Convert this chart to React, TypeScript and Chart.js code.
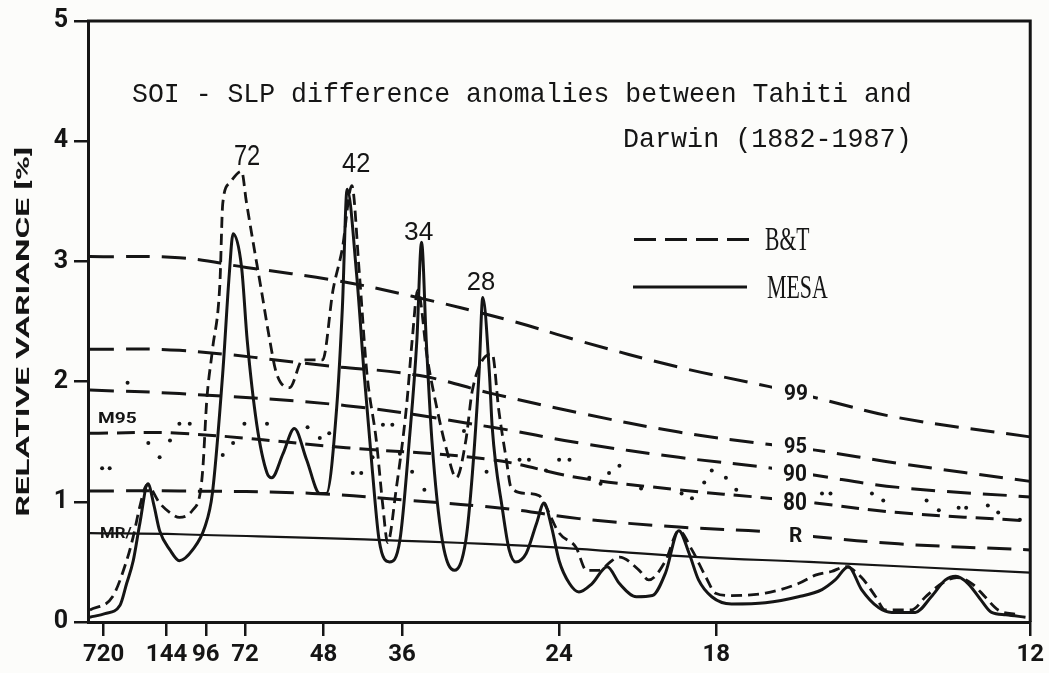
import React, { useEffect, useRef } from "react";
import { Chart, registerables } from "chart.js";

Chart.register(...registerables);

const INK = "#151515";
const BG = "#fcfcfa";

// x axis: frequency in cycles per year (12 / period in months); tick labels are periods in months
const periodTicks = [720, 144, 96, 72, 48, 36, 24, 18, 12];
const yTicks = [0, 1, 2, 3, 4, 5];

const peakLabels = ["72", "42", "34", "28"];
const sigLabels = ["99", "95", "90", "80", "R"];

// [frequency (cycles/yr), relative variance %]
const mesa: [number, number][] = [
  [0.002, 0.04], [0.018, 0.07], [0.034, 0.14], [0.041, 0.32], [0.048, 0.51], [0.055, 0.82],
  [0.0636, 1.15], [0.07, 0.97], [0.076, 0.76], [0.087, 0.6], [0.097, 0.51], [0.111, 0.6],
  [0.124, 0.79], [0.132, 1.07], [0.143, 2.07], [0.15, 2.9], [0.154, 3.23], [0.163, 2.95],
  [0.169, 2.34], [0.179, 1.65], [0.19, 1.24], [0.195, 1.2], [0.207, 1.4], [0.219, 1.61],
  [0.232, 1.35], [0.246, 1.07], [0.253, 1.07], [0.264, 1.79], [0.27, 2.62], [0.275, 3.6],
  [0.285, 2.9], [0.293, 2.07], [0.302, 1.24], [0.309, 0.68], [0.32, 0.5], [0.331, 0.68],
  [0.341, 1.51], [0.349, 2.34], [0.354, 3.16], [0.359, 2.34], [0.365, 1.51], [0.376, 0.68],
  [0.389, 0.43], [0.401, 0.68], [0.408, 1.24], [0.415, 2.07], [0.419, 2.7], [0.426, 2.07],
  [0.429, 1.62], [0.44, 0.93], [0.447, 0.6], [0.454, 0.5], [0.465, 0.57], [0.476, 0.82],
  [0.484, 0.99], [0.492, 0.79], [0.5, 0.51], [0.511, 0.32], [0.521, 0.25], [0.535, 0.32],
  [0.551, 0.46], [0.564, 0.32], [0.582, 0.21], [0.599, 0.22], [0.613, 0.41], [0.627, 0.76],
  [0.638, 0.57], [0.648, 0.35], [0.662, 0.21], [0.683, 0.15], [0.719, 0.16], [0.754, 0.21],
  [0.779, 0.27], [0.793, 0.35], [0.807, 0.46], [0.821, 0.27], [0.839, 0.12], [0.853, 0.08],
  [0.878, 0.08], [0.895, 0.21], [0.91, 0.35], [0.921, 0.38], [0.934, 0.32], [0.948, 0.18],
  [0.959, 0.08], [0.974, 0.06], [0.995, 0.04],
];

const bt: [number, number][] = [
  [0.002, 0.1], [0.026, 0.21], [0.041, 0.51], [0.048, 0.71], [0.055, 0.96], [0.0625, 1.14],
  [0.076, 0.99], [0.087, 0.91], [0.097, 0.87], [0.111, 0.93], [0.119, 1.07], [0.122, 1.29],
  [0.126, 1.84], [0.132, 2.26], [0.14, 2.82], [0.143, 3.48], [0.15, 3.65], [0.163, 3.75],
  [0.168, 3.5], [0.175, 3.17], [0.184, 2.76], [0.193, 2.34], [0.2, 2.07], [0.214, 1.95],
  [0.228, 2.18], [0.249, 2.18], [0.26, 2.76], [0.27, 3.11], [0.28, 3.63], [0.288, 2.9],
  [0.296, 2.07], [0.306, 1.51], [0.313, 0.96], [0.318, 0.66], [0.327, 1.1], [0.338, 1.79],
  [0.344, 2.34], [0.35, 2.76], [0.36, 2.2], [0.37, 1.79], [0.38, 1.45], [0.391, 1.2],
  [0.401, 1.51], [0.408, 1.93], [0.429, 2.23], [0.436, 1.76], [0.444, 1.35], [0.449, 1.12],
  [0.465, 1.07], [0.479, 1.05], [0.486, 0.96], [0.5, 0.74], [0.518, 0.62], [0.529, 0.43],
  [0.542, 0.43], [0.556, 0.51], [0.564, 0.54], [0.585, 0.43], [0.595, 0.35], [0.613, 0.51],
  [0.627, 0.76], [0.641, 0.6], [0.656, 0.37], [0.666, 0.24], [0.683, 0.22], [0.719, 0.24],
  [0.754, 0.32], [0.772, 0.39], [0.789, 0.42], [0.804, 0.46], [0.821, 0.37], [0.836, 0.21],
  [0.846, 0.1], [0.874, 0.1], [0.889, 0.21], [0.906, 0.32], [0.922, 0.37], [0.938, 0.32],
  [0.952, 0.21], [0.966, 0.1], [0.987, 0.06],
];

const sig99: [number, number][] = [
  [0.002, 3.04], [0.097, 3.03], [0.168, 2.95], [0.264, 2.84], [0.344, 2.71], [0.447, 2.51],
  [0.521, 2.34], [0.627, 2.12], [0.722, 1.96], [0.775, 1.86], [0.86, 1.7], [1.0, 1.54],
];
const sig95: [number, number][] = [
  [0.002, 2.27], [0.097, 2.26], [0.256, 2.13], [0.352, 2.05], [0.429, 1.9], [0.521, 1.74],
  [0.627, 1.58], [0.719, 1.48], [0.772, 1.43], [0.86, 1.32], [1.0, 1.17],
];
const sig90: [number, number][] = [
  [0.002, 1.93], [0.097, 1.9], [0.274, 1.8], [0.429, 1.62], [0.521, 1.49], [0.627, 1.37],
  [0.726, 1.28], [0.772, 1.22], [0.86, 1.12], [1.0, 1.04],
];
const sig80: [number, number][] = [
  [0.002, 1.57], [0.097, 1.57], [0.274, 1.45], [0.429, 1.35], [0.521, 1.2], [0.627, 1.1],
  [0.722, 1.03], [0.772, 0.99], [0.86, 0.91], [1.0, 0.84],
];
const sigR: [number, number][] = [
  [0.002, 1.09], [0.097, 1.09], [0.238, 1.07], [0.344, 1.01], [0.447, 0.94], [0.521, 0.86],
  [0.627, 0.79], [0.722, 0.75], [0.772, 0.71], [0.86, 0.65], [1.0, 0.6],
];
const sigMR: [number, number][] = [
  [0.002, 0.74], [0.097, 0.73], [0.45, 0.64], [0.648, 0.54], [0.765, 0.5], [1.0, 0.41],
];
const m95Dots: [number, number][] = [
  [0.015, 1.28], [0.023, 1.28], [0.042, 1.99], [0.064, 1.49], [0.076, 1.37], [0.087, 1.51],
  [0.097, 1.65], [0.108, 1.65], [0.143, 1.39], [0.154, 1.49], [0.166, 1.65], [0.19, 1.65],
  [0.233, 1.62], [0.246, 1.53], [0.256, 1.57], [0.281, 1.24], [0.29, 1.24], [0.302, 1.37],
  [0.313, 1.64], [0.323, 1.64], [0.331, 1.4], [0.344, 1.25], [0.357, 1.1], [0.399, 1.59],
  [0.423, 1.25], [0.458, 1.35], [0.468, 1.35], [0.486, 1.26], [0.5, 1.35], [0.511, 1.35],
  [0.532, 1.2], [0.544, 1.15], [0.553, 1.24], [0.564, 1.3], [0.587, 1.11], [0.63, 1.07],
  [0.641, 1.03], [0.654, 1.16], [0.662, 1.26], [0.677, 1.2], [0.688, 1.1], [0.779, 1.07],
  [0.788, 1.07], [0.832, 1.07], [0.844, 1.01], [0.89, 1.01], [0.903, 0.93], [0.924, 0.95],
  [0.932, 0.95], [0.955, 0.97], [0.966, 0.91], [0.989, 0.85],
];

const pts = (a: [number, number][]) => a.map(([x, y]) => ({ x, y }));

function fitText(ctx: CanvasRenderingContext2D, text: string, font: string, x0: number, y0: number, x1: number, y1: number) {
  ctx.save();
  ctx.font = font;
  ctx.textAlign = "left";
  ctx.textBaseline = "alphabetic";
  const m = ctx.measureText(text);
  const w = m.actualBoundingBoxLeft + m.actualBoundingBoxRight;
  const h = m.actualBoundingBoxAscent + m.actualBoundingBoxDescent;
  ctx.translate(x0, y0);
  ctx.scale((x1 - x0) / w, (y1 - y0) / h);
  ctx.fillStyle = INK;
  ctx.fillText(text, m.actualBoundingBoxLeft, m.actualBoundingBoxAscent);
  ctx.restore();
}

const annotPlugin = {
  id: "annot",
  beforeDraw(chart: any) {
    const { ctx, width, height } = chart;
    ctx.save();
    ctx.fillStyle = BG;
    ctx.fillRect(0, 0, width, height);
    ctx.restore();
  },
  afterDatasetsDraw(chart: any) {
    const ctx: CanvasRenderingContext2D = chart.ctx;
    const a = chart.chartArea;
    ctx.save();
    ctx.strokeStyle = INK;
    ctx.lineWidth = 3;
    ctx.beginPath();
    ctx.moveTo(a.left - 1, a.top);
    ctx.lineTo(a.right, a.top);
    ctx.lineTo(a.right, a.bottom);
    ctx.stroke();
    ctx.restore();

    // significance level labels with gaps in their lines
    const boxes = [
      [784, 385, 807, 400],
      [784, 438, 807, 453],
      [783, 465, 807, 481],
      [783, 493, 807, 510],
      [790, 528, 802, 542],
    ];
    sigLabels.forEach((t, i) => {
      const [x0, y0, x1, y1] = boxes[i];
      ctx.save();
      ctx.fillStyle = BG;
      ctx.fillRect(772, y0 - 4, 41, y1 - y0 + 8);
      ctx.restore();
      fitText(ctx, t, "bold 19px Roboto", x0, y0, x1, y1);
    });
    fitText(ctx, "M95", "bold 13px Roboto", 98, 413, 136, 423);
    fitText(ctx, "MR/", "bold 13px Roboto", 100, 528, 132, 539);
  },
  afterDraw(chart: any) {
    const ctx: CanvasRenderingContext2D = chart.ctx;
    fitText(ctx, "SOI - SLP difference anomalies between Tahiti and", "26px 'Liberation Mono'", 133, 81.5, 910, 102);
    fitText(ctx, "Darwin (1882-1987)", "26px 'Liberation Mono'", 625, 127, 908, 152);

    const peakBoxes = [
      [235, 145, 260, 165],
      [342, 153, 370, 172],
      [404, 222, 433, 240],
      [468, 272, 495, 290],
    ];
    peakLabels.forEach((t, i) => {
      const [x0, y0, x1, y1] = peakBoxes[i];
      fitText(ctx, t, "22px 'Liberation Sans'", x0, y0, x1, y1);
    });

    // legend
    ctx.save();
    ctx.strokeStyle = INK;
    ctx.lineWidth = 3;
    ctx.setLineDash([22, 9]);
    ctx.beginPath();
    ctx.moveTo(634, 239.5);
    ctx.lineTo(750, 239.5);
    ctx.stroke();
    ctx.setLineDash([]);
    ctx.beginPath();
    ctx.moveTo(633, 287);
    ctx.lineTo(747, 287);
    ctx.stroke();
    ctx.restore();
    fitText(ctx, "B&T", "22px 'Liberation Serif'", 765, 229, 810, 250);
    fitText(ctx, "MESA", "22px 'Liberation Serif'", 767, 277, 828, 298);

    // y axis title
    ctx.save();
    ctx.translate(14, 515);
    ctx.rotate(-Math.PI / 2);
    fitText(ctx, "RELATIVE VARIANCE [%]", "bold 21px Roboto", 0, 0, 515 - 148, 18);
    ctx.restore();
  },
};

export default function App() {
  const ref = useRef<HTMLCanvasElement>(null);
  useEffect(() => {
    const sigStyle = (data: [number, number][], dash: number[]) => ({
      data: pts(data),
      borderColor: INK,
      borderWidth: 3,
      borderDash: dash,
      pointRadius: 0,
      tension: 0.4,
      fill: false,
    });
    const chart = new Chart(ref.current as HTMLCanvasElement, {
      type: "line",
      data: {
        datasets: [
          { label: "99", ...sigStyle(sig99, [24, 12]) },
          { label: "95", ...sigStyle(sig95, [24, 12]) },
          { label: "90", ...sigStyle(sig90, [24, 12]) },
          { label: "80", ...sigStyle(sig80, [18, 9]) },
          { label: "R", ...sigStyle(sigR, [24, 12]) },
          { label: "MR", ...sigStyle(sigMR, []), borderWidth: 2.2 },
          {
            label: "M95",
            data: pts(m95Dots),
            showLine: false,
            pointRadius: 2,
            pointBackgroundColor: INK,
            pointBorderWidth: 0,
            borderColor: INK,
          },
          {
            label: "B&T",
            data: pts(bt),
            borderColor: INK,
            borderWidth: 2.8,
            borderDash: [11, 6],
            pointRadius: 0,
            cubicInterpolationMode: "monotone",
            fill: false,
          },
          {
            label: "MESA",
            data: pts(mesa),
            borderColor: INK,
            borderWidth: 3,
            pointRadius: 0,
            cubicInterpolationMode: "monotone",
            fill: false,
          },
        ],
      } as any,
      options: {
        animation: false,
        responsive: true,
        maintainAspectRatio: false,
        events: [],
        layout: { padding: { top: 20, right: 17, left: 0, bottom: 0 } },
        plugins: { legend: { display: false }, tooltip: { enabled: false }, title: { display: false } },
        scales: {
          x: {
            type: "linear",
            min: 0,
            max: 1,
            afterFit: (s: any) => {
              s.height = 51;
            },
            afterBuildTicks: (s: any) => {
              s.ticks = periodTicks.map((p) => ({ value: 12 / p }));
            },
            ticks: {
              autoSkip: false,
              maxRotation: 0,
              padding: 5,
              color: INK,
              font: { family: "Roboto", weight: "bold", size: 24 },
              callback: (_v: any, i: number) => String(periodTicks[i]),
            },
            grid: { drawOnChartArea: false, drawTicks: true, tickLength: 14, lineWidth: 2.5, color: INK },
            border: { display: true, width: 3, color: INK },
          },
          y: {
            type: "linear",
            min: 0,
            max: 5,
            afterFit: (s: any) => {
              s.width = 88;
            },
            afterBuildTicks: (s: any) => {
              s.ticks = yTicks.map((v) => ({ value: v }));
            },
            ticks: {
              padding: 6,
              color: INK,
              font: { family: "Roboto", weight: "bold", size: 25 },
            },
            grid: { drawOnChartArea: false, drawTicks: true, tickLength: 14, lineWidth: 2.5, color: INK },
            border: { display: true, width: 3, color: INK },
          },
        },
      } as any,
      plugins: [annotPlugin],
    });
    return () => chart.destroy();
  }, []);
  return (
    <div style={{ position: "fixed", left: 0, top: 0, width: 1049, height: 673, background: BG }}>
      <canvas ref={ref} />
    </div>
  );
}
